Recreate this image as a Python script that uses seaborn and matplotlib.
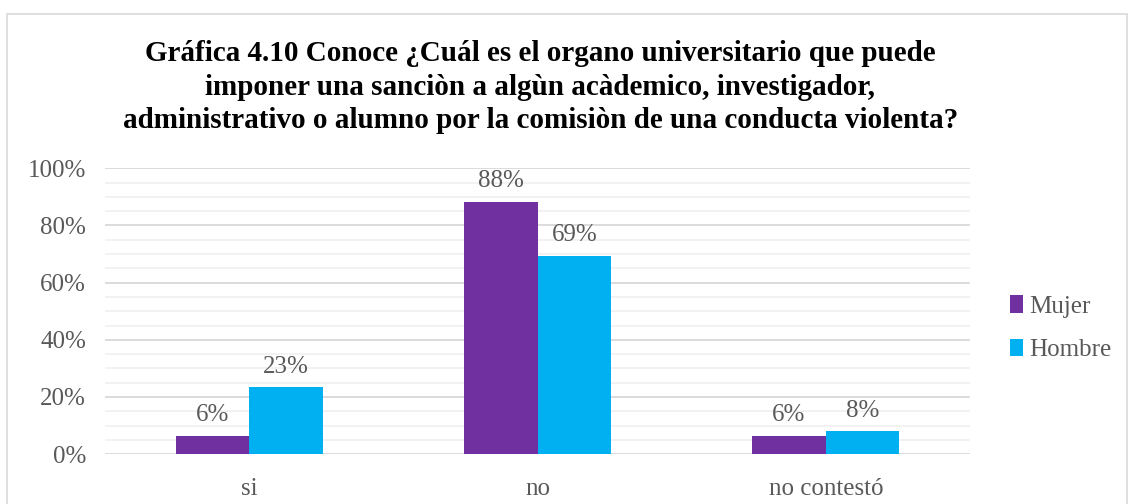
import pandas as pd
import seaborn as sns
import matplotlib.pyplot as plt
from matplotlib.patches import Rectangle
from matplotlib.ticker import MultipleLocator, PercentFormatter

categories = ["si", "no", "no contestó"]
mujer = [6.5, 88.2, 6.5]
hombre = [23.4, 69.4, 8.0]
series = ["Mujer", "Hombre"]
colors = ["#7030A0", "#00B0F0"]

data = pd.DataFrame({
    "categoria": categories * 2,
    "valor": mujer + hombre,
    "sexo": [series[0]] * 3 + [series[1]] * 3,
})

sns.set_style("white")
plt.rcParams['font.family'] = ['Liberation Serif', 'DejaVu Serif']

f = plt.figure(figsize=(11.33, 5.04), dpi=100)
ax = f.add_axes([0.093, 0.099, 0.763, 0.567])

sns.barplot(data, x="categoria", y="valor", hue="sexo", palette=colors,
            width=0.51, saturation=1, linewidth=0, ax=ax, legend=True)

for cont in ax.containers:
    ax.bar_label(cont, labels=[f"{v:.0f}%" for v in cont.datavalues],
                 padding=7, fontsize=18, color="#595959")

ax.set_ylim(0, 100)
ax.set_xlim(-0.5, 2.5)
ax.yaxis.set_major_locator(MultipleLocator(20))
ax.yaxis.set_minor_locator(MultipleLocator(5))
ax.yaxis.set_major_formatter(PercentFormatter(decimals=0))
ax.grid(axis="y", which="major", color="#D9D9D9", linewidth=1.3)
ax.grid(axis="y", which="minor", color="#F0F0F0", linewidth=1.2)
ax.set_axisbelow(True)
for s in ax.spines.values():
    s.set_visible(False)
ax.set_xlabel("")
ax.set_ylabel("")
ax.tick_params(axis="both", length=0, labelsize=18, labelcolor="#595959")
ax.tick_params(axis="x", pad=17)
ax.tick_params(axis="y", pad=14)

ax.legend(frameon=False, loc="center left", bbox_to_anchor=(1.02, 0.44),
          fontsize=18, labelcolor="#595959", handlelength=0.55, handleheight=0.7,
          handletextpad=0.25, labelspacing=0.85)

f.text(0.477, 0.827,
       "Gráfica 4.10 Conoce ¿Cuál es el organo universitario que puede\n"
       "imponer una sanciòn a algùn acàdemico, investigador,\n"
       "administrativo o alumno por la comisiòn de una conducta violenta?",
       ha="center", va="center", fontsize=21, fontweight="bold",
       linespacing=1.3, color="black")

f.patches.append(Rectangle((7 / 1133, -0.05), 1120 / 1133, 1.05 - 14 / 504,
                           transform=f.transFigure, fill=False,
                           edgecolor="#D9D9D9", linewidth=1.2))

f.savefig("out.png", dpi=100)
